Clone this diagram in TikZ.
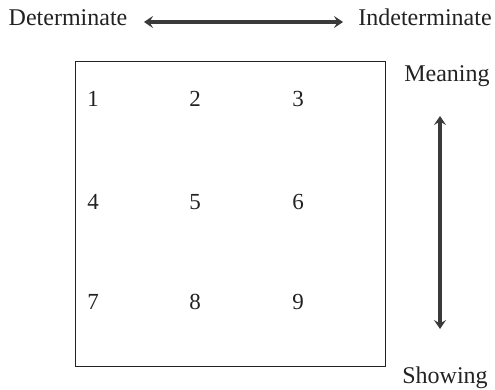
\documentclass[tikz,border=0pt]{standalone}
\usepackage{fontspec}
\setmainfont{Liberation Serif}
\usetikzlibrary{arrows.meta}
\definecolor{txt}{HTML}{222222}
\definecolor{arr}{HTML}{3a3a3a}
\begin{document}
\begin{tikzpicture}[x=1pt,y=-1pt,
  lbl/.style={inner sep=0pt,anchor=base,text=txt,font=\fontsize{24}{28}\selectfont},
  num/.style={inner sep=0pt,anchor=base,text=txt,font=\fontsize{23}{26}\selectfont},
  dbl/.style={draw=arr,line width=3.2pt,{Stealth[length=9pt,width=12pt,inset=3.5pt]}-{Stealth[length=9pt,width=12pt,inset=3.5pt]}},
  frame/.style={draw=txt,line width=1.4pt}]
\useasboundingbox (0,0) rectangle (495,390);
\node[lbl] (det) at (68,26) {Determinate};
\node[lbl] (ind) at (425,26) {Indeterminate};
\node[lbl] (mea) at (447,82) {Meaning};
\node[lbl] (sho) at (445,383) {Showing};
\node[frame,minimum width=310pt,minimum height=305pt,anchor=north west,inner sep=0pt] (box) at (75,61) {};
\node[num] (n1) at (93,107) {1};
\node[num] (n2) at (195,107) {2};
\node[num] (n3) at (298,107) {3};
\node[num] (n4) at (93,210) {4};
\node[num] (n5) at (195,210) {5};
\node[num] (n6) at (298,210) {6};
\node[num] (n7) at (93,309) {7};
\node[num] (n8) at (195,309) {8};
\node[num] (n9) at (298,309) {9};
\coordinate (hl) at (144,22);
\coordinate (hr) at (343,22);
\coordinate (vt) at (440,116);
\coordinate (vb) at (440,329);
\draw[dbl] (hl) -- (hr);
\draw[dbl] (vt) -- (vb);
\end{tikzpicture}
\end{document}
